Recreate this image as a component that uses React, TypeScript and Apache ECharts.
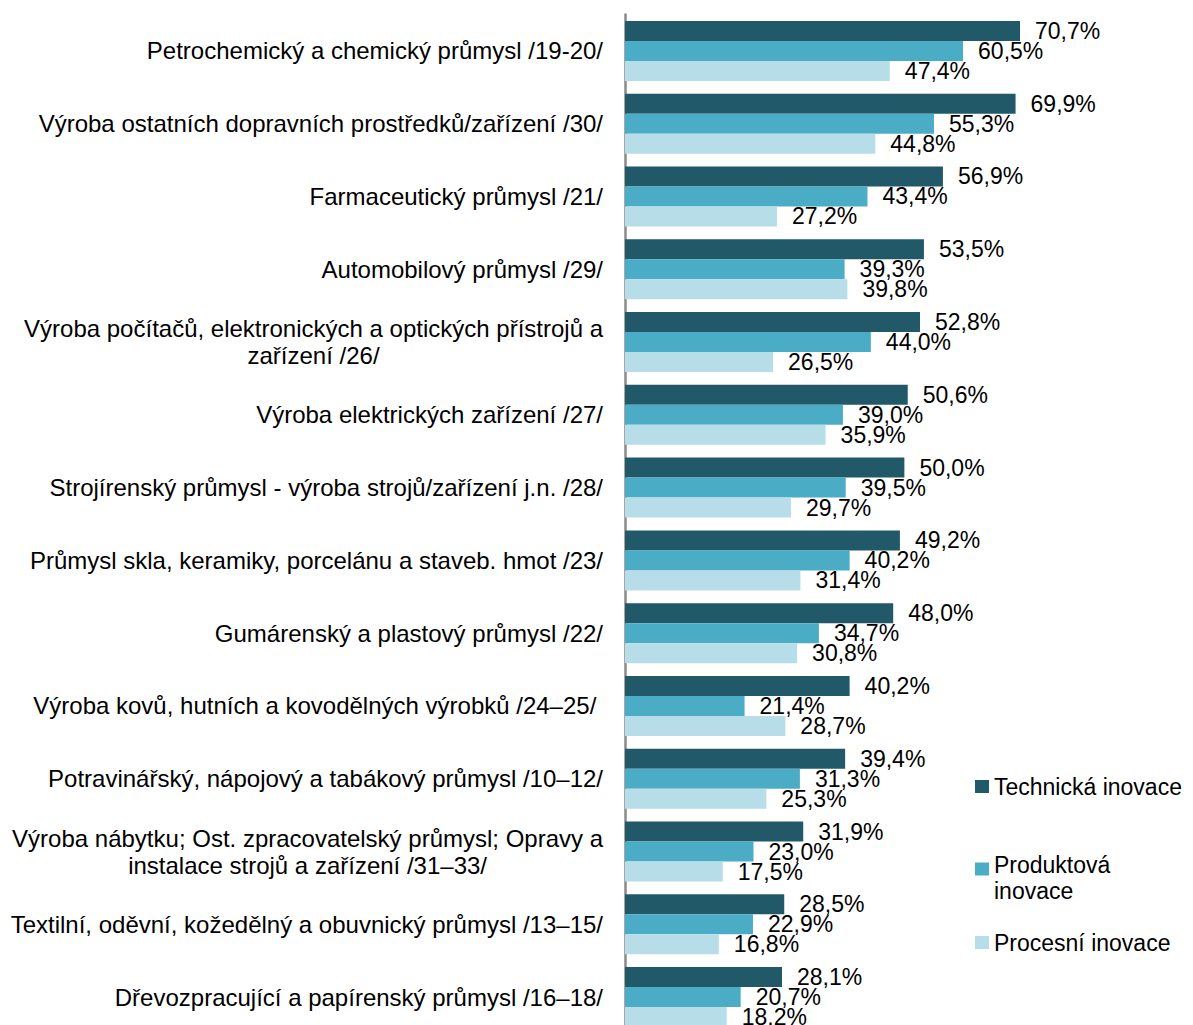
import React, { useEffect, useRef } from 'react';
import * as echarts from 'echarts';

const categories = [
  'Petrochemický a chemický průmysl /19-20/',
  'Výroba ostatních dopravních prostředků/zařízení /30/',
  'Farmaceutický průmysl /21/',
  'Automobilový průmysl /29/',
  'Výroba počítačů, elektronických a optických přístrojů a\nzařízení /26/',
  'Výroba elektrických zařízení /27/',
  'Strojírenský průmysl - výroba strojů/zařízení j.n. /28/',
  'Průmysl skla, keramiky, porcelánu a staveb. hmot /23/',
  'Gumárenský a plastový průmysl /22/',
  'Výroba kovů, hutních a kovodělných výrobků /24–25/ ',
  'Potravinářský, nápojový a tabákový průmysl /10–12/',
  'Výroba nábytku; Ost. zpracovatelský průmysl; Opravy a\ninstalace strojů a zařízení /31–33/',
  'Textilní, oděvní, kožedělný a obuvnický průmysl /13–15/',
  'Dřevozpracující a papírenský průmysl /16–18/',
];

const technicalInnovation = [70.7, 69.9, 56.9, 53.5, 52.8, 50.6, 50.0, 49.2, 48.0, 40.2, 39.4, 31.9, 28.5, 28.1];
const productInnovation = [60.5, 55.3, 43.4, 39.3, 44.0, 39.0, 39.5, 40.2, 34.7, 21.4, 31.3, 23.0, 22.9, 20.7];
const processInnovation = [47.4, 44.8, 27.2, 39.8, 26.5, 35.9, 29.7, 31.4, 30.8, 28.7, 25.3, 17.5, 16.8, 18.2];

const seriesNames = ['Technická inovace', 'Produktová inovace', 'Procesní inovace'];
const seriesColors = ['#215968', '#4BACC6', '#B7DEE8'];

const FONT = '"Liberation Sans", Arial, sans-serif';

export default function App() {
  const ref = useRef<HTMLDivElement>(null);

  useEffect(() => {
    if (!ref.current) return;
    const chart = echarts.init(ref.current, null, { renderer: 'svg' });
    const dataSets = [technicalInnovation, productInnovation, processInnovation];

    const legendBase = {
      left: 975,
      orient: 'vertical',
      padding: 0,
      icon: 'rect',
      itemWidth: 14,
      itemHeight: 13,
      selectedMode: false,
    };
    const legendText = { fontSize: 23, lineHeight: 26, color: '#000', fontFamily: FONT };

    chart.setOption({
      animation: false,
      backgroundColor: '#ffffff',
      textStyle: { fontFamily: FONT },
      grid: { left: 625, top: 14.5, width: 447, height: 1019 },
      xAxis: {
        type: 'value',
        min: 0,
        max: 80,
        show: false,
        splitLine: { show: false },
      },
      yAxis: {
        type: 'category',
        inverse: true,
        data: categories,
        axisLine: { show: true, lineStyle: { color: '#8a8a8a', width: 2.5 } },
        axisTick: { show: false },
        splitLine: { show: false },
        axisLabel: {
          margin: 22,
          fontSize: 24,
          color: '#000',
          fontFamily: FONT,
          lineHeight: 27,
          formatter: (v: string) =>
            v.indexOf('\n') >= 0
              ? v.split('\n').map((l) => `{c|${l}}`).join('\n')
              : v,
          rich: {
            c: { align: 'center', fontSize: 24, lineHeight: 27, color: '#000', fontFamily: FONT },
          },
        },
      },
      legend: [
        { ...legendBase, top: 773.5, data: [seriesNames[0]], textStyle: legendText },
        {
          ...legendBase,
          top: 834,
          data: [seriesNames[1]],
          formatter: () => '{s| }\n{t|Produktová}\n{t|inovace}',
          textStyle: {
            ...legendText,
            rich: {
              s: { fontSize: 10, lineHeight: 18, height: 18 },
              t: { ...legendText },
            },
          },
        },
        { ...legendBase, top: 929.5, data: [seriesNames[2]], textStyle: legendText },
      ],
      series: dataSets.map((d, i) => ({
        name: seriesNames[i],
        type: 'bar',
        data: d,
        barWidth: 20,
        barGap: '0%',
        itemStyle: { color: seriesColors[i] },
        label: {
          show: true,
          position: 'right',
          distance: 15,
          fontSize: 23,
          color: '#000',
          fontFamily: FONT,
          formatter: (p: any) => p.value.toFixed(1).replace('.', ',') + '%',
        },
      })),
    });

    return () => chart.dispose();
  }, []);

  return (
    <div style={{ position: 'absolute', left: 0, top: 0, width: 1193, height: 1025, overflow: 'hidden' }}>
      <div ref={ref} style={{ width: 1193, height: 1045 }} />
    </div>
  );
}
